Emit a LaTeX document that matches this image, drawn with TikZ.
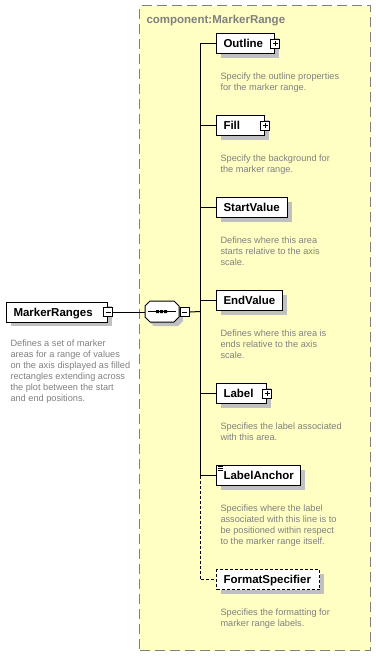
\documentclass[tikz,border=0pt]{standalone}
\usepackage{fontspec}
\setmainfont{Liberation Sans}
\usetikzlibrary{shadows}
\definecolor{groupfill}{HTML}{FFFFC4}
\definecolor{groupline}{HTML}{808080}
\definecolor{shadowgrey}{HTML}{C0C0C0}
\definecolor{descgrey}{HTML}{808080}
\newcommand\elemfont{\bfseries\fontsize{11.5}{13}\selectfont}
\newcommand\descfont{\fontsize{9.2}{11}\selectfont}

\begin{document}
\begin{tikzpicture}[x=1pt,y=-1pt,
  line width=1pt,
  shadowed/.style={drop shadow={shadow xshift=4pt, shadow yshift=-4pt, fill=shadowgrey, opacity=1}},
  groupbox/.style={draw=groupline, fill=groupfill, dash pattern=on 10pt off 5pt, line width=1.2pt, anchor=north west, inner sep=0pt},
  elem/.style={draw, fill=white, anchor=north west, minimum height=20pt, inner xsep=7pt, inner ysep=0pt,
    text height=8.2pt, text depth=0pt, font=\elemfont, shadowed},
  optional/.style={dash pattern=on 3pt off 2pt},
  desc/.style={anchor=north west, inner sep=0pt, align=left, font=\descfont, text=descgrey},
  pmbox/.style={draw, fill=white, minimum size=9pt, inner sep=0pt, line width=0.9pt},
  plusbox/.style={pmbox, path picture={\draw[line width=1pt]
      ([xshift=2pt]path picture bounding box.west) -- ([xshift=-2pt]path picture bounding box.east)
      ([yshift=-2pt]path picture bounding box.north) -- ([yshift=2pt]path picture bounding box.south);}},
  minusbox/.style={pmbox, path picture={\draw[line width=1pt]
      ([xshift=2pt]path picture bounding box.west) -- ([xshift=-2pt]path picture bounding box.east);}},
]
\useasboundingbox (0,0) rectangle (375,656);

% complex type group
\node[groupbox, minimum width=231pt, minimum height=645pt] (group) at (139,5) {};
\node[anchor=base west, inner sep=0pt, font=\elemfont, text=descgrey] (title) at (146,23.3) {component:MarkerRange};

% root element
\node[elem] (mranges) at (6,301.5) {\makebox[87pt][l]{MarkerRanges}};
\node[minusbox] (mrangesm) at (mranges.east) {};
\node[desc] (mrangesd) at (10,339.7) {Defines a set of marker\\areas for a range of values\\on the axis displayed as filled\\rectangles extending across\\the plot between the start\\and end positions.};

% sequence compositor
\node[draw=none, minimum width=34pt, minimum height=21pt, anchor=north west, inner sep=0pt] (seq) at (145,301) {};
\draw[fill=white, shadowed] (150,301) -- (174,301) -- (179,306) -- (179,317) -- (174,322)
  -- (150,322) -- (145,317) -- (145,306) -- cycle;
\draw (148,311.5) -- (176,311.5);
\fill (156,310) rectangle ++(3,3) (160,310) rectangle ++(3,3) (164,310) rectangle ++(3,3);
\node[minusbox, anchor=west] (seqm) at (seq.east) {};

% child elements
\node[elem] (outline) at (216,33) {\makebox[44pt][l]{Outline}};
\node[plusbox] (outlinep) at (outline.east) {};
\node[desc] (outlined) at (220,72.7) {Specify the outline properties\\for the marker range.};

\node[elem] (fillel) at (216,115) {\makebox[34pt][l]{Fill}};
\node[plusbox] (fillelp) at (fillel.east) {};
\node[desc] (filleld) at (220,154.7) {Specify the background for\\the marker range.};

\node[elem] (startv) at (216,197) {\makebox[57pt][l]{StartValue}};
\node[desc] (startvd) at (220,236.7) {Defines where this area\\starts relative to the axis\\scale.};

\node[elem] (endv) at (216,290) {\makebox[52pt][l]{EndValue}};
\node[desc] (endvd) at (220,329.7) {Defines where this area is\\ends relative to the axis\\scale.};

\node[elem] (label) at (216,383) {\makebox[36pt][l]{Label}};
\node[plusbox] (labelp) at (label.east) {};
\node[desc] (labeld) at (220,422.7) {Specifies the label associated\\with this area.};

\node[elem] (lanchor) at (216,465) {\makebox[70pt][l]{LabelAnchor}};
\foreach \dy in {1.5,3.5,5.5}
  \draw[line width=0.7pt] ([shift={(1.5pt,-\dy pt)}]lanchor.north west) -- ++(5,0);
\node[desc] (lanchord) at (220,504.7) {Specifies where the label\\associated with this line is to\\be positioned within respect\\to the marker range itself.};

\node[elem, optional] (fmt) at (216,569) {\makebox[89pt][l]{FormatSpecifier}};
\node[desc] (fmtd) at (220,608.7) {Specifies the formatting for\\marker range labels.};

% connectors
\draw (mrangesm.east) -- (seq.west);
\coordinate (trunk) at (200,311.5);
\draw (seqm.east) -- (trunk);
\draw (trunk |- outline.west) -- (trunk |- lanchor.west);
\foreach \n in {outline,fillel,startv,endv,label,lanchor}
  \draw (trunk |- \n.west) -- (\n.west);
\draw[optional] (trunk |- lanchor.west) |- (fmt.west);
\end{tikzpicture}
\end{document}
